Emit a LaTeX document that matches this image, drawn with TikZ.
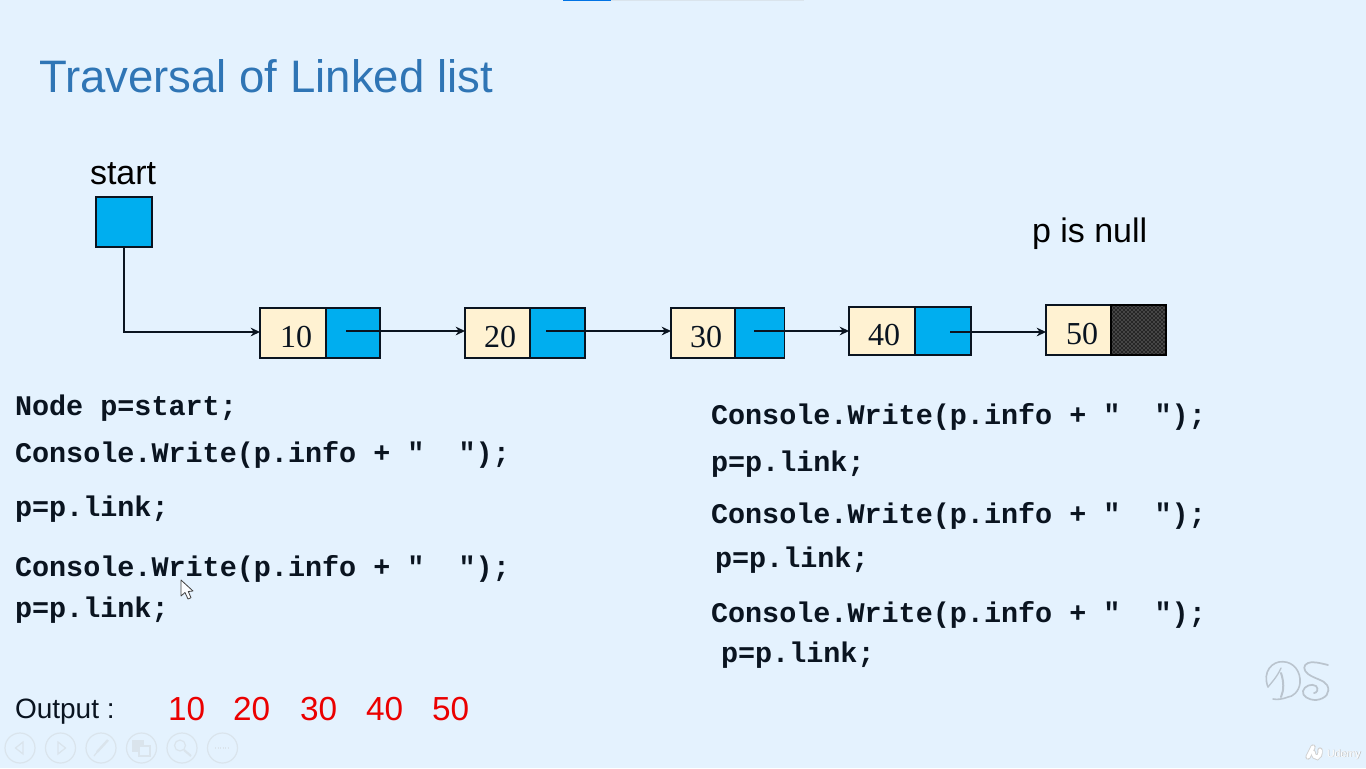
\documentclass[tikz,border=0pt]{standalone}
\usepackage{fontspec}
\setmainfont{Liberation Sans}
\newfontfamily\codefont{Liberation Mono}[BoldFont={Liberation Mono Bold}]
\newfontfamily\numfont{Liberation Serif}
\usetikzlibrary{arrows.meta,patterns}
\definecolor{pagebg}{HTML}{E4F2FE}
\definecolor{titleblue}{HTML}{2F75B5}
\definecolor{cellcream}{HTML}{FFF2D2}
\definecolor{cellblue}{HTML}{00AEEF}
\definecolor{inkdark}{HTML}{0A1420}
\definecolor{ghost}{HTML}{DAE4EC}
\definecolor{mark}{HTML}{BAC4CE}
\tikzset{
  every node/.style={inner sep=0pt,outer sep=0pt},
  titletext/.style={anchor=base west,text=titleblue,font=\fontsize{34.15pt}{40pt}\selectfont},
  labeltext/.style={anchor=base west,text=black,font=\fontsize{25.5pt}{30pt}\selectfont},
  codetext/.style={anchor=base west,text=inkdark,font=\codefont\bfseries\fontsize{21.33pt}{25pt}\selectfont},
  outtext/.style={anchor=base west,text=inkdark,font=\fontsize{21pt}{25pt}\selectfont},
  rednum/.style={anchor=base west,text=red!92!black,font=\fontsize{25pt}{30pt}\selectfont},
  numtext/.style={anchor=base,text=inkdark,font=\numfont\fontsize{24pt}{28pt}\selectfont},
  cellbase/.style={draw=inkdark,line width=1.3pt,rectangle},
  infocell/.style={cellbase,fill=cellcream},
  linkcell/.style={cellbase,fill=cellblue},
  nullcell/.style={cellbase,draw=black,preaction={fill=black!85},pattern=crosshatch dots,pattern color=white!70!black},
  linkarrow/.style={draw=inkdark,line width=1.1pt,-{Stealth[length=7pt,width=6.5pt]}},
  toolring/.style={draw=ghost,line width=0.9pt,circle,minimum size=22.5pt},
  toolicon/.style={draw=ghost,line width=0.9pt},
  markstroke/.style={draw=mark,line width=1pt,line cap=round},
}
\begin{document}
\begin{tikzpicture}[x=0.75pt,y=-0.75pt]
\useasboundingbox (0,0) rectangle (1366,768);
\fill[pagebg] (0,0) rectangle (1366,768);
% progress bar
\fill[ghost] (611,0) rectangle (804,1);
\fill[blue!50!cyan!90!black] (563,0) rectangle (611,1.2);
% title
\node[titletext] (title) at (39,92) {Traversal of Linked list};
\node[labeltext] (startlabel) at (90,184) {start};
\node[labeltext] (pnull) at (1032,242) {p is null};
% start
\node[linkcell,minimum width=41.5pt,minimum height=37.5pt] (startbox) at (124,222) {};
% list cells
\node[infocell,minimum width=49.5pt,minimum height=37pt] (c10) at (293,333) {};
\node[linkcell,minimum width=40.5pt,minimum height=37pt] (l10) at (353,333) {};
\node[infocell,minimum width=48.75pt,minimum height=37pt] (c20) at (497.5,333) {};
\node[linkcell,minimum width=41pt,minimum height=37pt] (l20) at (557.5,333) {};
\node[infocell,minimum width=48pt,minimum height=37pt] (c30) at (703,333) {};
\node[linkcell,minimum width=37pt,minimum height=37pt] (l30) at (759.7,333) {};
\node[infocell,minimum width=49.5pt,minimum height=36pt] (c40) at (882,331) {};
\node[linkcell,minimum width=42pt,minimum height=36pt] (l40) at (943,331) {};
\node[infocell,minimum width=48.75pt,minimum height=37pt] (c50) at (1078.5,330) {};
\node[nullcell,minimum width=41.25pt,minimum height=37pt] (l50) at (1138.5,330) {};
\node[numtext] (n10) at (296,347) {10};
\node[numtext] (n20) at (500,347) {20};
\node[numtext] (n30) at (706,347) {30};
\node[numtext] (n40) at (884,345) {40};
\node[numtext] (n50) at (1082,344) {50};
% connectors
\coordinate (p10) at (346,331);
\coordinate (p20) at (546,331);
\coordinate (p30) at (754,331);
\coordinate (p40) at (950,332);
\coordinate (bend) at (124,332);
\draw[linkarrow] (startbox.south) -- (bend) -- (bend -| c10.west);
\draw[linkarrow] (p10) -- (p10 -| c20.west);
\draw[linkarrow] (p20) -- (p20 -| c30.west);
\draw[linkarrow] (p30) -- (p30 -| c40.west);
\draw[linkarrow] (p40) -- (p40 -| c50.west);
% code, left
\node[codetext] (a1) at (15,415) {Node p=start;};
\node[codetext] (a2) at (15,462) {Console.Write(p.info + "\ \ ");};
\node[codetext] (a3) at (15,516) {p=p.link;};
\node[codetext] (a4) at (15,576) {Console.Write(p.info + "\ \ ");};
\node[codetext] (a5) at (15,617) {p=p.link;};
% code, right
\node[codetext] (b1) at (711,424) {Console.Write(p.info + "\ \ ");};
\node[codetext] (b2) at (711,471) {p=p.link;};
\node[codetext] (b3) at (711,523) {Console.Write(p.info + "\ \ ");};
\node[codetext] (b4) at (715,567) {p=p.link;};
\node[codetext] (b5) at (711,622) {Console.Write(p.info + "\ \ ");};
\node[codetext] (b6) at (721,662) {p=p.link;};
% output
\node[outtext] (outlabel) at (15,718) {Output :};
\node[rednum] (o10) at (168,720) {10};
\node[rednum] (o20) at (233,720) {20};
\node[rednum] (o30) at (300,720) {30};
\node[rednum] (o40) at (366,720) {40};
\node[rednum] (o50) at (432,720) {50};
% mouse pointer
\draw[fill=white!85!pagebg,draw=black!75,line width=0.6pt,line join=round]
  (181,580) -- (181,596) -- (185,592.5) -- (188,599) -- (191,597.7) -- (188.3,591.5) -- (193,591) -- cycle;
% slide-show toolbar
\node[toolring] (t1) at (20,748) {};
\node[toolring] (t2) at (60.5,748) {};
\node[toolring] (t3) at (101,748) {};
\node[toolring] (t4) at (141.5,748) {};
\node[toolring] (t5) at (182,748) {};
\node[toolring] (t6) at (222.5,748) {};
\draw[toolicon] (23,742) -- (15.5,748) -- (23,754) -- cycle;
\draw[toolicon] (58,742) -- (65.5,748) -- (58,754) -- cycle;
\draw[toolicon,line width=1.8pt] (108,740) -- (97,752);
\draw[toolicon] (94,756) -- (98,751);
\draw[toolicon,fill=ghost] (133,741) rectangle (143,751);
\draw[toolicon,fill=pagebg] (139,746) rectangle (150,756);
\draw[toolicon] (180,745.5) circle (5.5);
\draw[toolicon,line width=1.6pt] (184,750) -- (191,756);
\draw[toolicon,densely dotted,line width=1.4pt] (215,748) -- (230,748);
% DS watermark
\draw[markstroke,line width=1.2pt] (1268,687) .. controls (1262,672) and (1272,661) .. (1283,661.7) .. controls (1294,662) and (1301,672) .. (1300,683) .. controls (1299,692) and (1292,697) .. (1288,697) .. controls (1283,699) and (1277,700) .. (1273,699);
\draw[markstroke] (1268,687) .. controls (1272,682) and (1277,677) .. (1281,668);
\draw[markstroke,line width=1.5pt] (1281,673) .. controls (1284,682) and (1284,690) .. (1281,697);
\draw[markstroke,line width=1.3pt] (1328,665) .. controls (1320,663) and (1312,661) .. (1308,663) .. controls (1303,665) and (1303,670) .. (1308,674) .. controls (1315,679) and (1324,680) .. (1327,685) .. controls (1331,692) and (1326,699) .. (1316,700) .. controls (1308,700) and (1302,696) .. (1303,691) .. controls (1304,686) and (1312,683) .. (1316,686) .. controls (1319,689) and (1317,693) .. (1314,693);
% Udemy mark
\draw[draw=black!18,line width=4pt,line cap=round] (1308,757) -- (1313,747);
\draw[draw=black!18,line width=4pt,line cap=round] (1313,752) .. controls (1314,760) and (1321,759) .. (1320,750);
\draw[draw=white,line width=2.6pt,line cap=round] (1308,757) -- (1313,747);
\draw[draw=white,line width=2.6pt,line cap=round] (1313,752) .. controls (1314,760) and (1321,759) .. (1320,750);
\node[anchor=base west,text=black!28,font=\fontsize{8pt}{10pt}\selectfont] (udemyshade) at (1327.6,757.6) {Udemy};
\node[anchor=base west,text=white,font=\fontsize{8pt}{10pt}\selectfont] (udemy) at (1327,757) {Udemy};
\end{tikzpicture}
\end{document}
